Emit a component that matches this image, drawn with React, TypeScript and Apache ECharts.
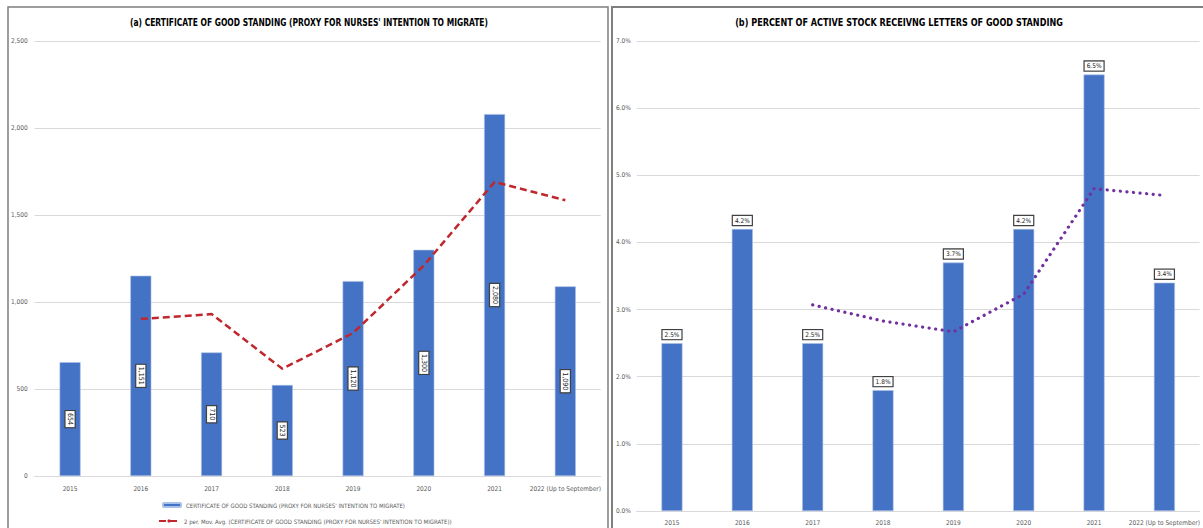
import React, { useEffect, useRef } from "react";
import * as echarts from "echarts";

const categories = ["2015", "2016", "2017", "2018", "2019", "2020", "2021", "2022 (Up to September)"];
const certificates = [654, 1151, 710, 523, 1120, 1300, 2080, 1090];
const certMovAvg: (number | null)[] = [null, 902.5, 930.5, 616.5, 821.5, 1210, 1690, 1585];
const percentStock = [2.5, 4.2, 2.5, 1.8, 3.7, 4.2, 6.5, 3.4];
const percentMovAvg: (number | null)[] = [null, null, 3.07, 2.83, 2.67, 3.23, 4.8, 4.7];

const titleA = "(a) CERTIFICATE OF GOOD STANDING (PROXY FOR NURSES' INTENTION TO MIGRATE)";
const titleB = "(b) PERCENT OF ACTIVE STOCK RECEIVNG LETTERS OF GOOD STANDING";
const barName = "CERTIFICATE OF GOOD STANDING (PROXY FOR NURSES' INTENTION TO MIGRATE)";
const maName = "2 per. Mov. Avg. (CERTIFICATE OF GOOD STANDING (PROXY FOR NURSES' INTENTION TO MIGRATE))";
const barNameB = "PERCENT OF ACTIVE STOCK RECEIVING LETTERS OF GOOD STANDING";
const maNameB = "3 per. Mov. Avg. (PERCENT OF ACTIVE STOCK)";

const FONT = "'Liberation Sans Narrow', 'DejaVu Sans Condensed', 'Liberation Sans', sans-serif";
const BLUE = "#4472C4";
const GREY = "#595959";

export default function App() {
  const ref = useRef<HTMLDivElement>(null);
  useEffect(() => {
    if (!ref.current) return;
    const chart = echarts.init(ref.current, null, { renderer: "svg" });
    const axisLabel = { color: GREY, fontSize: 6.5, fontFamily: FONT };
    const legendText = { fontSize: 6, color: GREY, fontFamily: FONT };
    chart.setOption({
      animation: false,
      backgroundColor: "#ffffff",
      textStyle: { fontFamily: FONT },
      legend: [
        {
          data: [barName],
          left: 157,
          top: 497,
          itemWidth: 18,
          itemHeight: 4,
          textStyle: legendText,
        },
        {
          data: [maName],
          left: 153,
          top: 513,
          itemWidth: 20,
          itemHeight: 4,
          textStyle: legendText,
        },
      ],
      grid: [
        { left: 34.7, top: 41, width: 566, height: 435 },
        { left: 636.8, top: 41, width: 563, height: 470 },
      ],
      xAxis: [
        {
          type: "category",
          gridIndex: 0,
          data: categories,
          axisTick: { show: false },
          axisLine: { lineStyle: { color: "#d9d9d9", width: 1 } },
          axisLabel: { ...axisLabel, margin: 9, interval: 0 },
        },
        {
          type: "category",
          gridIndex: 1,
          data: categories,
          axisTick: { show: false },
          axisLine: { lineStyle: { color: "#d9d9d9", width: 1 } },
          axisLabel: { ...axisLabel, margin: 8, interval: 0 },
        },
      ],
      yAxis: [
        {
          type: "value",
          gridIndex: 0,
          min: 0,
          max: 2500,
          interval: 500,
          axisLine: { show: false },
          axisTick: { show: false },
          splitLine: { lineStyle: { color: "#d9d9d9", width: 1 } },
          axisLabel: { ...axisLabel, margin: 7, formatter: (v: number) => v.toLocaleString("en-US") },
        },
        {
          type: "value",
          gridIndex: 1,
          min: 0,
          max: 7,
          interval: 1,
          axisLine: { show: false },
          axisTick: { show: false },
          splitLine: { lineStyle: { color: "#d9d9d9", width: 1 } },
          axisLabel: { ...axisLabel, margin: 6, formatter: (v: number) => v.toFixed(1) + "%" },
        },
      ],
      series: [
        {
          name: barName,
          type: "bar",
          xAxisIndex: 0,
          yAxisIndex: 0,
          data: certificates,
          barWidth: 21,
          itemStyle: { color: BLUE, borderColor: "#a9c0e8", borderWidth: 0.6 },
          label: {
            show: true,
            position: "inside",
            rotate: -90,
            fontSize: 7,
            color: "#222",
            fontFamily: FONT,
            backgroundColor: "#fff",
            borderColor: "#404040",
            borderWidth: 1.2,
            padding: [1, 2, 1, 2],
            formatter: (p: any) => Number(p.value).toLocaleString("en-US"),
          },
        },
        {
          name: maName,
          type: "line",
          xAxisIndex: 0,
          yAxisIndex: 0,
          data: certMovAvg,
          symbol: "none",
          lineStyle: { color: "#C0272D", width: 2.5, type: [7, 4] },
          itemStyle: { color: "#C0272D" },
          z: 5,
        },
        {
          name: barNameB,
          type: "bar",
          xAxisIndex: 1,
          yAxisIndex: 1,
          data: percentStock,
          barWidth: 21,
          itemStyle: { color: BLUE, borderColor: "#a9c0e8", borderWidth: 0.6 },
          label: {
            show: true,
            position: "top",
            distance: 4,
            fontSize: 6.5,
            color: "#222",
            fontFamily: FONT,
            backgroundColor: "#fff",
            borderColor: "#404040",
            borderWidth: 1.2,
            padding: [1, 2, 1, 2],
            formatter: (p: any) => Number(p.value).toFixed(1) + "%",
          },
        },
        {
          name: maNameB,
          type: "line",
          xAxisIndex: 1,
          yAxisIndex: 1,
          data: percentMovAvg,
          symbol: "none",
          lineStyle: { color: "#7030A0", width: 3.2, type: [0.1, 6.5], cap: "round" },
          itemStyle: { color: "#7030A0" },
          z: 5,
        },
      ],
      graphic: [
        {
          type: "rect",
          shape: { x: 8, y: 7, width: 600, height: 540 },
          style: { fill: "none", stroke: "#7f7f7f", lineWidth: 1.5 },
          silent: true,
        },
        {
          type: "rect",
          shape: { x: 612, y: 7, width: 600, height: 540 },
          style: { fill: "none", stroke: "#7f7f7f", lineWidth: 2 },
          silent: true,
        },
        {
          type: "text",
          x: 309,
          y: 22,
          scaleX: 0.765,
          style: {
            text: titleA,
            font: "bold 11px " + FONT,
            fill: "#000",
            textAlign: "center",
            textVerticalAlign: "middle",
          },
        },
        {
          type: "text",
          x: 899,
          y: 22,
          scaleX: 0.82,
          style: {
            text: titleB,
            font: "bold 11px " + FONT,
            fill: "#000",
            textAlign: "center",
            textVerticalAlign: "middle",
          },
        },
      ],
    });
    return () => chart.dispose();
  }, []);
  return <div ref={ref} style={{ position: "fixed", left: 0, top: 0, width: 1203, height: 528 }} />;
}
